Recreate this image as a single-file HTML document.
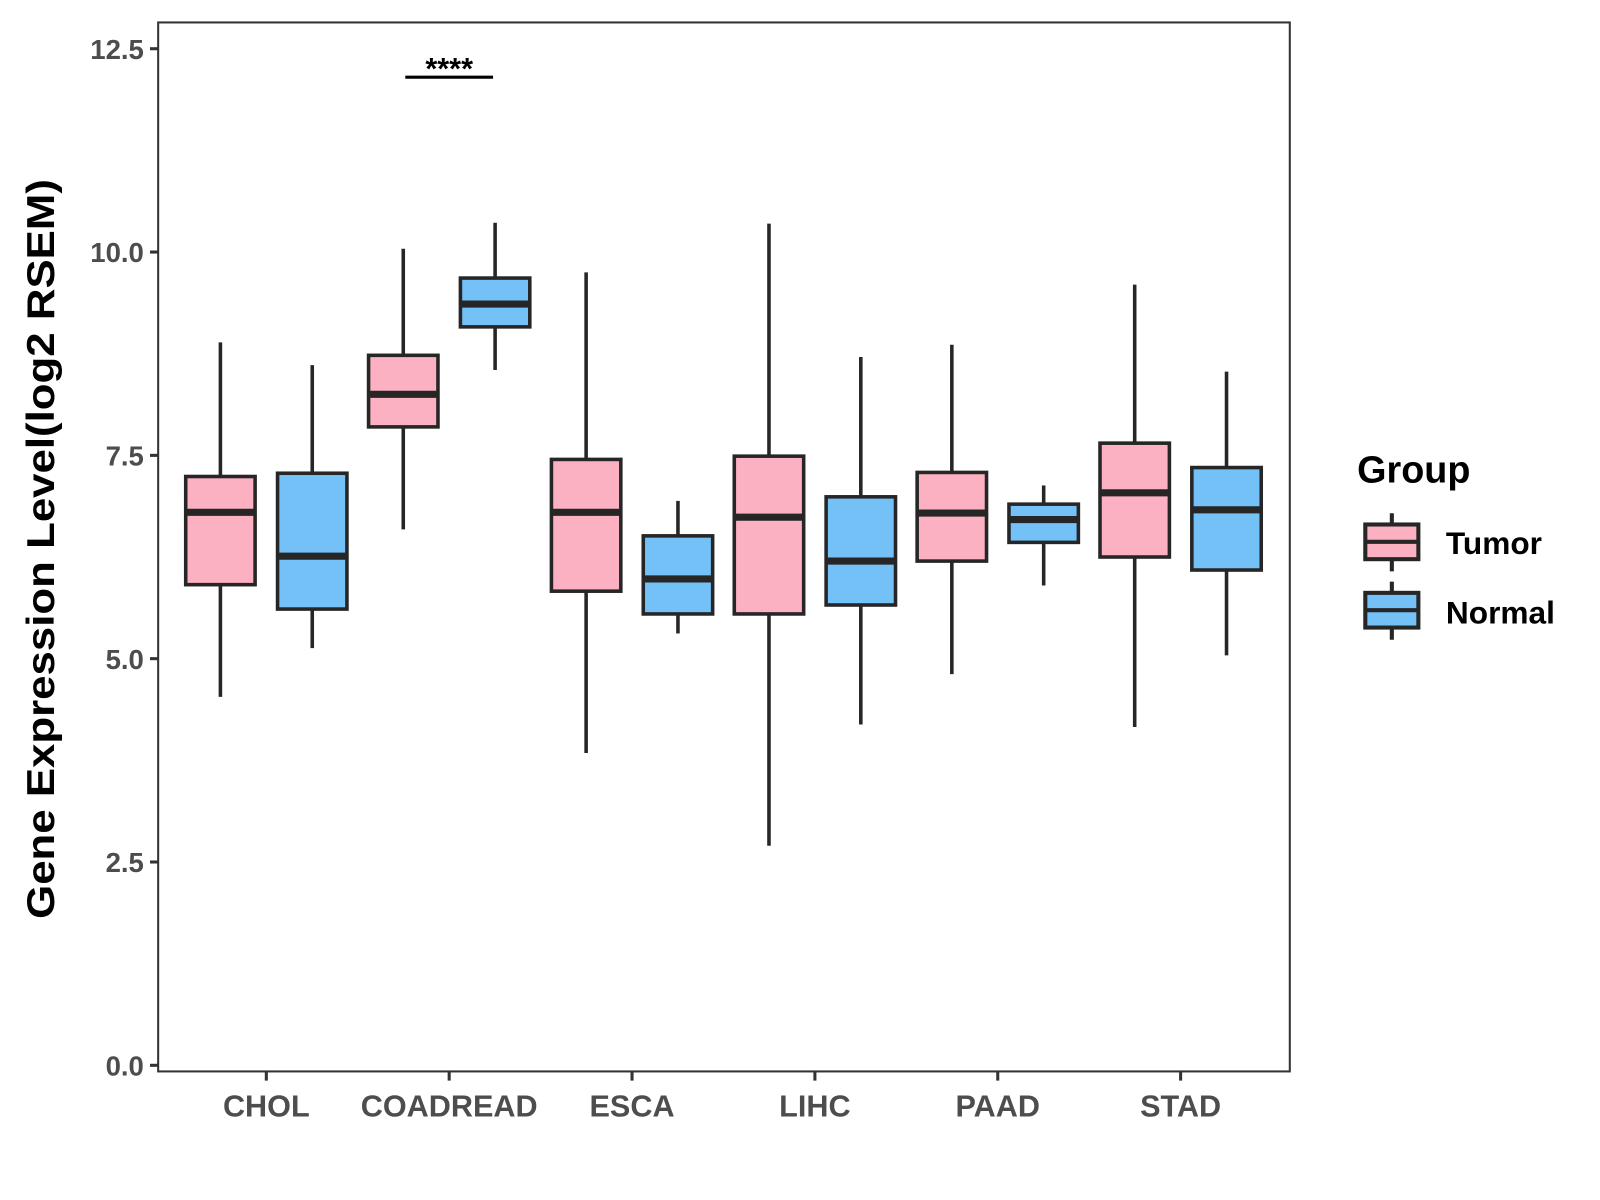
<!DOCTYPE html>
<html><head><meta charset="utf-8"><style>
html,body{margin:0;padding:0;background:#fff;}
svg{display:block;}
text{font-family:"Liberation Sans",Arial,sans-serif;font-weight:bold;}
</style></head><body>
<svg id="chart" width="1600" height="1200" viewBox="0 0 1568 1176" xmlns="http://www.w3.org/2000/svg">
<rect x="0" y="0" width="1568" height="1176" fill="#fff"/>
<g id="plot"></g>
<text transform="translate(53,538) rotate(-90)" text-anchor="middle" font-size="38" textLength="725" lengthAdjust="spacingAndGlyphs" fill="#000">Gene Expression Level(log2 RSEM)</text>
<g>
<text x="1330" y="473" font-size="37" fill="#000">Group</text>
<g>
<line x1="1364" y1="503" x2="1364" y2="560" stroke="#262626" stroke-width="4"/>
<rect x="1338" y="514" width="52" height="34" fill="#FBB1C1" stroke="#262626" stroke-width="4"/>
<line x1="1338" y1="531" x2="1390" y2="531" stroke="#262626" stroke-width="4"/>
<text x="1417" y="543" font-size="31" fill="#000">Tumor</text>
</g>
<g>
<line x1="1364" y1="570" x2="1364" y2="627" stroke="#262626" stroke-width="4"/>
<rect x="1338" y="581" width="52" height="34" fill="#74C1F8" stroke="#262626" stroke-width="4"/>
<line x1="1338" y1="598" x2="1390" y2="598" stroke="#262626" stroke-width="4"/>
<text x="1417" y="611" font-size="31" fill="#000">Normal</text>
</g>
</g>
</svg>
<script>
const categories = ["CHOL","COADREAD","ESCA","LIHC","PAAD","STAD"];
const groups = ["Tumor","Normal"];
const tumorLow   = [4.53, 6.59, 3.84, 2.70, 4.81, 4.16];
const tumorQ1    = [5.91, 7.85, 5.83, 5.55, 6.20, 6.25];
const tumorMed   = [6.80, 8.25, 6.80, 6.74, 6.79, 7.04];
const tumorQ3    = [7.24, 8.73, 7.45, 7.49, 7.29, 7.65];
const tumorHigh  = [8.89, 10.04, 9.75, 10.35, 8.86, 9.60];
const normalLow  = [5.13, 8.55, 5.31, 4.19, 5.90, 5.04];
const normalQ1   = [5.61, 9.08, 5.55, 5.66, 6.43, 6.09];
const normalMed  = [6.26, 9.36, 5.98, 6.20, 6.71, 6.83];
const normalQ3   = [7.28, 9.68, 6.51, 6.99, 6.90, 7.35];
const normalHigh = [8.61, 10.36, 6.94, 8.71, 7.13, 8.53];
const yTicks = [0, 2.5, 5, 7.5, 10, 12.5];
const yTickLabels = ["0.0","2.5","5.0","7.5","10.0","12.5"];
const sigCategory = 1;
const sigValue = 12.15;
const sigLabel = "****";

const NS = "http://www.w3.org/2000/svg";
const L = 155, R = 1264, T = 22, B = 1050;
const y = v => 1044 - v * 79.7;
const x = i => 261 + i * 179.2;
const g = document.getElementById("plot");
function mk(tag, attrs, parent) {
  const e = document.createElementNS(NS, tag);
  for (const k in attrs) e.setAttribute(k, attrs[k]);
  (parent || g).appendChild(e);
  return e;
}
const panel = mk("rect", {x:L, y:T, width:R-L, height:B-T, fill:"none", stroke:"#333", "stroke-width":2});



yTicks.forEach((v, i) => {
  const t = mk("line", {x1:L-8, x2:L, y1:y(v), y2:y(v), stroke:"#333", "stroke-width":3});
  
  
  const tx = mk("text", {x:L-14, y:y(v)+10, "text-anchor":"end", "font-size":"27", fill:"#4d4d4d"});
  tx.textContent = yTickLabels[i];
  
  
});
categories.forEach((c, i) => {
  const t = mk("line", {x1:x(i), x2:x(i), y1:B, y2:B+9, stroke:"#333", "stroke-width":3});
  
  
  const tx = mk("text", {x:x(i), y:B+44, "text-anchor":"middle", "font-size":"30", fill:"#4d4d4d"});
  tx.textContent = c;
  
  
});

const series = [
  {low:tumorLow, q1:tumorQ1, med:tumorMed, q3:tumorQ3, high:tumorHigh, fill:"#FBB1C1", off:-45, name:"tumor"},
  {low:normalLow, q1:normalQ1, med:normalMed, q3:normalQ3, high:normalHigh, fill:"#74C1F8", off:45, name:"normal"}
];
const hw = 34;
series.forEach(s => {
  categories.forEach((c, i) => {
    const cx = x(i) + s.off;
    const bg = mk("g", {});
    
    
    mk("line", {x1:cx, x2:cx, y1:y(s.high[i]), y2:y(s.q3[i]), stroke:"#262626", "stroke-width":3.5}, bg);
    mk("line", {x1:cx, x2:cx, y1:y(s.q1[i]), y2:y(s.low[i]), stroke:"#262626", "stroke-width":3.5}, bg);
    mk("rect", {x:cx-hw, y:y(s.q3[i]), width:hw*2, height:y(s.q1[i])-y(s.q3[i]), fill:s.fill, stroke:"#262626", "stroke-width":3.5}, bg);
    mk("line", {x1:cx-hw, x2:cx+hw, y1:y(s.med[i]), y2:y(s.med[i]), stroke:"#262626", "stroke-width":7}, bg);
  });
});

const sx = x(sigCategory);
const sb = mk("line", {x1:sx-43, x2:sx+43, y1:y(sigValue), y2:y(sigValue), stroke:"#000", "stroke-width":3});


const st = mk("text", {x:sx, y:y(sigValue)+2, "text-anchor":"middle", "font-size":"30", fill:"#000"});
st.textContent = sigLabel;


</script>
</body></html>
